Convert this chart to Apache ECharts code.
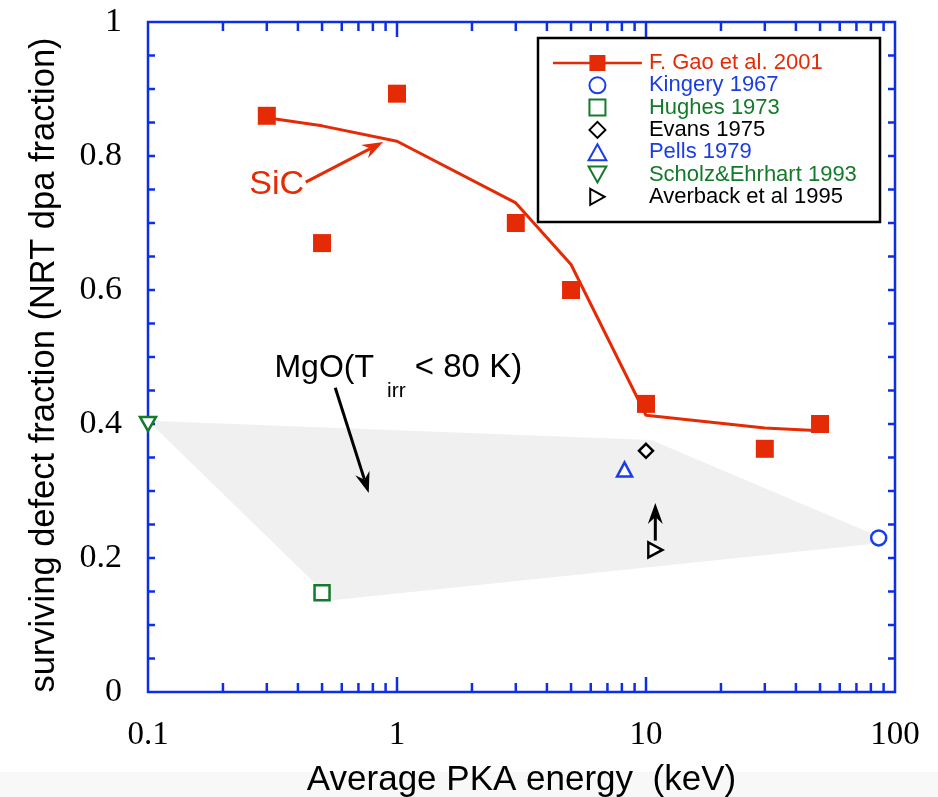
<!DOCTYPE html>
<html>
<head>
<meta charset="utf-8">
<script src="https://cdn.jsdelivr.net/npm/echarts@6/dist/echarts.min.js"></script>
<style>html,body{margin:0;padding:0;background:#fff}#c{width:938px;height:797px}</style>
</head>
<body>
<div id="c"></div>
<script>
// ---- data ----
const gaoPoints = [[0.3,0.86],[0.5,0.67],[1,0.893],[3,0.70],[5,0.60],[10,0.43],[30,0.363],[50,0.40]];
const gaoFit = [[0.3,0.857],[0.5,0.845],[1,0.822],[3,0.73],[5,0.638],[10,0.413],[30,0.394],[50,0.39]];
const kingery = [[86,0.23]];
const hughes = [[0.5,0.148]];
const evans = [[10,0.36]];
const pells = [[8.2,0.332]];
const scholz = [[0.1,0.40]];
const averback = [[10.9,0.212]];
const mgoRegion = [[0.1,0.405],[10.5,0.376],[86,0.232],[86,0.222],[0.55,0.137]];
const arrows = [[0.43,0.761,0.88,0.821,'red'],[0.565,0.454,0.77,0.297,'black'],[10.9,0.226,10.9,0.282,'black']];
const textLabels = [[0.255,0.757],[0.322,0.484]];
const xMajorTicks = [1,10];
const xMinorTicks = [0.2,0.3,0.4,0.5,0.6,0.7,0.8,0.9,2,3,4,5,6,7,8,9,20,30,40,50,60,70,80,90];
const yTicks = [0.05,0.1,0.15,0.2,0.25,0.3,0.35,0.4,0.45,0.5,0.55,0.6,0.65,0.7,0.75,0.8,0.85,0.9,0.95];
const seriesNames = ['F. Gao et al. 2001','Kingery 1967','Hughes 1973','Evans 1975','Pells 1979','Scholz&Ehrhart 1993','Averback et al 1995'];

const BLUE = '#0c2ee6', RED = '#e52a06', GREEN = '#137a2a', LBLUE = '#1a3de6';
const SQ = 'path://M0,0L10,0L10,10L0,10Z';
const DIA = 'path://M5,0L10,5L5,10L0,5Z';
const TRI_UP = 'path://M5,0L10,9L0,9Z';
const TRI_DN = 'path://M0,0L10,0L5,9Z';
const TRI_RT = 'path://M0,0L9,5L0,10Z';
const GAO_ICON = 'path://M0,7.5L41,7.5L41,10.5L0,10.5Z M41,0L59,0L59,18L41,18Z M59,7.5L100,7.5L100,10.5L59,10.5Z';

const chart = echarts.init(document.getElementById('c'), null, {renderer:'canvas'});

function tickItem(params, api){
  const kind = api.value(1), v = api.value(0);
  const st = {stroke: BLUE, lineWidth: 2.5};
  if (kind === 0 || kind === 1) {
    const len = kind === 1 ? 15 : 9;
    const b = api.coord([v, 0]), t = api.coord([v, 1]);
    return {type:'group', children:[
      {type:'line', shape:{x1:b[0],y1:b[1],x2:b[0],y2:b[1]-len}, style:st},
      {type:'line', shape:{x1:t[0],y1:t[1],x2:t[0],y2:t[1]+len}, style:st}
    ]};
  } else {
    const l = api.coord([0.1, v]), r = api.coord([100, v]);
    return {type:'group', children:[
      {type:'line', shape:{x1:l[0],y1:l[1],x2:l[0]+7,y2:l[1]}, style:st},
      {type:'line', shape:{x1:r[0],y1:r[1],x2:r[0]-7,y2:r[1]}, style:st}
    ]};
  }
}
const tickData = [].concat(xMajorTicks.map(v=>[v,1]), xMinorTicks.map(v=>[v,0]), yTicks.map(v=>[v,2]));

function arrowItem(params, api){
  const p1 = api.coord([api.value(0), api.value(1)]);
  const p2 = api.coord([api.value(2), api.value(3)]);
  const col = arrows[params.dataIndex][4] === 'red' ? RED : '#000';
  const dx = p2[0]-p1[0], dy = p2[1]-p1[1];
  const L = Math.sqrt(dx*dx+dy*dy), ux = dx/L, uy = dy/L, nx = -uy, ny = ux;
  const hl = 21, hw = 7.5, notch = 14;
  const tip = p2;
  const bx = tip[0]-ux*hl, by = tip[1]-uy*hl;
  const nxp = tip[0]-ux*notch, nyp = tip[1]-uy*notch;
  return {type:'group', children:[
    {type:'line', shape:{x1:p1[0],y1:p1[1],x2:nxp,y2:nyp}, style:{stroke:col,lineWidth:3}},
    {type:'polygon', shape:{points:[tip,[bx+nx*hw,by+ny*hw],[nxp,nyp],[bx-nx*hw,by-ny*hw]]}, style:{fill:col}}
  ]};
}

const option = {
  backgroundColor: '#fff',
  animation: false,
  grid: {left:148, right:43, top:22, bottom:105, show:true, borderColor:BLUE, borderWidth:2.5,
         backgroundColor:'transparent', containLabel:false, outerBoundsMode:'none'},
  xAxis: {
    type:'log', logBase:10, min:0.1, max:100,
    axisLine:{show:false}, axisTick:{show:false}, splitLine:{show:false}, minorTick:{show:false},
    axisLabel:{color:'#000', fontFamily:'Liberation Serif', fontSize:33, margin:27,
      formatter: v => String(v)},
    name:'Average PKA energy  (keV)', nameLocation:'middle', nameGap:71,
    nameTextStyle:{color:'#000', fontFamily:'Liberation Sans', fontSize:35}
  },
  yAxis: {
    type:'value', min:0, max:1, interval:0.2,
    axisLine:{show:false}, axisTick:{show:false}, splitLine:{show:false},
    axisLabel:{color:'#000', fontFamily:'Liberation Serif', fontSize:34, margin:26},
    name:'surviving defect fraction (NRT dpa fraction)', nameLocation:'middle', nameGap:86,
    nameTextStyle:{color:'#000', fontFamily:'Liberation Sans', fontSize:34.5, padding:[0,16,0,0]}
  },
  legend: {
    orient:'vertical', left:553, top:52, itemWidth:93, itemHeight:16, itemGap:0.3,
    selectedMode:false, padding:0,
    textStyle:{fontFamily:'Liberation Sans', fontSize:22},
    data:[
      {name:seriesNames[0], icon:GAO_ICON, textStyle:{color:RED}},
      {name:seriesNames[1], textStyle:{color:LBLUE}},
      {name:seriesNames[2], textStyle:{color:GREEN}},
      {name:seriesNames[3], textStyle:{color:'#000'}},
      {name:seriesNames[4], textStyle:{color:LBLUE}},
      {name:seriesNames[5], textStyle:{color:GREEN}},
      {name:seriesNames[6], textStyle:{color:'#000'}}
    ]
  },
  graphic: [
    {type:'rect', left:0, top:772, z:-10, shape:{width:938, height:25}, style:{fill:'#f7f8f7'}},
    {type:'rect', shape:{x:538, y:38, width:342, height:184}, style:{fill:'none', stroke:'#000', lineWidth:2.5}, z:100}
  ],
  series: [
    {type:'custom', name:'mgo', coordinateSystem:'cartesian2d', z:1, silent:true,
      data:[[0.1,0.4]],
      renderItem:(params, api)=>({type:'polygon', shape:{points: mgoRegion.map(p=>api.coord(p))}, style:{fill:'#f0f0f0'}})
    },
    {type:'custom', name:'ticks', coordinateSystem:'cartesian2d', z:5, silent:true, clip:false,
      data: tickData, renderItem: tickItem},
    {type:'line', name:seriesNames[0], data:gaoFit, symbol:'none', z:3,
      lineStyle:{color:RED, width:3}, itemStyle:{color:RED}},
    {type:'scatter', name:'gaoPts', data:gaoPoints, symbol:SQ, symbolSize:18, z:4,
      itemStyle:{color:RED, opacity:1}},
    {type:'scatter', name:seriesNames[1], data:kingery, symbol:'circle', symbolSize:15, z:4,
      itemStyle:{color:'#fff', borderColor:LBLUE, borderWidth:2.5, opacity:1}},
    {type:'scatter', name:seriesNames[2], data:hughes, symbol:SQ, symbolSize:15, z:4,
      itemStyle:{color:'#fff', borderColor:GREEN, borderWidth:2.5, opacity:1}},
    {type:'scatter', name:seriesNames[3], data:evans, symbol:DIA, symbolSize:14, z:4,
      itemStyle:{color:'#fff', borderColor:'#000', borderWidth:2.5, opacity:1}},
    {type:'scatter', name:seriesNames[4], data:pells, symbol:TRI_UP, symbolSize:[15,14], z:4,
      itemStyle:{color:'#fff', borderColor:LBLUE, borderWidth:2.5, opacity:1}},
    {type:'scatter', name:seriesNames[5], data:scholz, symbol:TRI_DN, symbolSize:[16,14], z:6,
      itemStyle:{color:'#fff', borderColor:GREEN, borderWidth:2.5, opacity:1}},
    {type:'scatter', name:seriesNames[6], data:averback, symbol:TRI_RT, symbolSize:[14,15], z:4,
      itemStyle:{color:'#fff', borderColor:'#000', borderWidth:2.5, opacity:1}},
    {type:'custom', name:'arrows', coordinateSystem:'cartesian2d', z:7, silent:true, clip:false,
      data: arrows.map(a=>[a[0],a[1],a[2],a[3]]), renderItem: arrowItem},
    {type:'custom', name:'labels', coordinateSystem:'cartesian2d', z:7, silent:true, clip:false,
      data: textLabels,
      renderItem:(params, api)=>{
        const p = api.coord([api.value(0), api.value(1)]);
        if (params.dataIndex === 0) {
          return {type:'text', x:p[0], y:p[1], style:{text:'SiC', fill:RED, fontFamily:'Liberation Sans', fontSize:34, align:'left', verticalAlign:'middle'}};
        }
        return {type:'text', x:p[0], y:p[1], style:{
          text:'{a|MgO(T}{s|irr}{b| < 80 K)}', align:'left', verticalAlign:'middle',
          rich:{a:{fontFamily:'Liberation Sans', fontSize:32, fill:'#000'},
                b:{fontFamily:'Liberation Sans', fontSize:33, fill:'#000'},
                s:{fontFamily:'Liberation Sans', fontSize:21, fill:'#000', padding:[46,0,0,13]}}
        }};
      }}
  ]
};
chart.setOption(option);
</script>
</body>
</html>
